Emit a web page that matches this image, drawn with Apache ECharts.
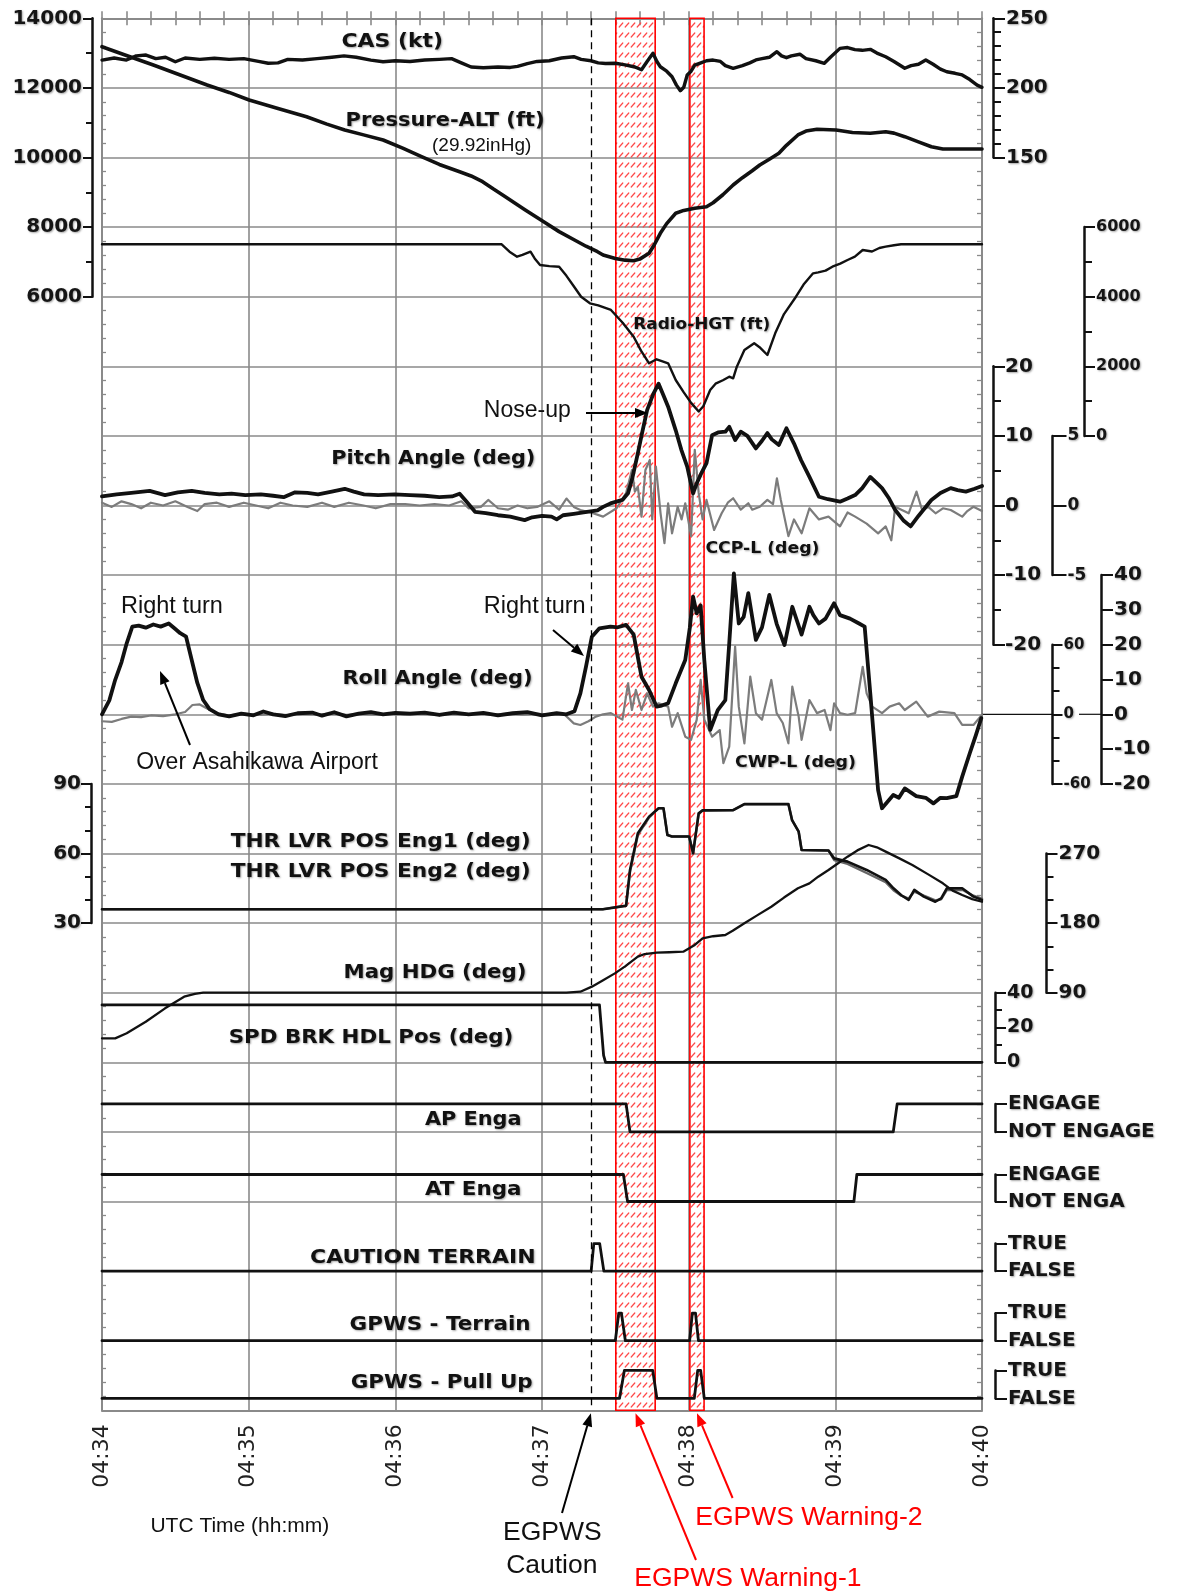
<!DOCTYPE html>
<html><head><meta charset="utf-8">
<script src="https://cdn.jsdelivr.net/npm/echarts@6/dist/echarts.min.js"></script>
<style>html,body{margin:0;padding:0;background:#fff}#c{width:1177px;height:1594px}</style>
</head><body><div id="c"></div>
<script>
// ---------------- DATA (time in seconds after 04:34:00) ----------------
const timeTicks = ['04:34','04:35','04:36','04:37','04:38','04:39','04:40'];
const egpwsCautionT = 200;
const warning1 = [210.2, 226.3];
const warning2 = [240.5, 246.3];

const CAS = [[0,220],[5,221.5],[10,220],[14,223],[18,223.6],[22,221],[26,222],[30,218.8],[34,221.5],[40,220.5],[46,221.3],[52,220.5],[58,221],[64,219],[68,217.7],[72,218],[76,220.5],[82,220],[88,221],[94,222],[99,223],[104,222],[110,220],[115,218.8],[120,219.5],[126,219],[132,220],[138,220.5],[143,221],[147,218],[151,215],[156,214.5],[162,215],[167,214.7],[170,215.5],[174,217.5],[178,219],[183,219.5],[188,221.5],[193,222.4],[196,220.5],[200,219.5],[203,218],[206,217.5],[210,217.7],[214,216.5],[218,215],[220.7,213],[223,219],[225.4,224.9],[227,219],[228.4,215.2],[231,212],[233.2,208],[235,202],[236.6,198],[238,200.5],[239.4,209.3],[241,212],[242.5,216.4],[245,218],[247.3,219.5],[250,220],[253,219],[255,216],[258.2,214.1],[262,216],[265,218],[267.5,220.1],[270,221],[273,222],[276.1,226],[278,223],[280,221.7],[282,223],[285.5,224.2],[288,221],[292,219.5],[295.5,217.7],[298,222],[301.9,228.4],[305,229],[308,227.5],[311,227],[314.3,227.7],[317,225],[320.6,222.4],[324,219],[328.4,214.1],[331,216],[334,217],[337,220.1],[340,217],[343,213.5],[345.6,211.6],[349,210.5],[351.9,209.3],[355,206],[358,202],[360,200.4]];

const PRESS_ALT = [[0,13184],[10,12930],[21,12658],[32,12370],[43,12083],[52,11870],[60.2,11652],[72,11410],[83.7,11172],[92,10960],[99.3,10790],[107,10650],[115,10503],[123,10270],[130.7,10023],[138,9800],[146.3,9592],[151,9470],[155.7,9305],[160,9100],[165,8874],[173,8500],[180.7,8155],[187,7870],[193.3,7629],[198,7450],[202.7,7293],[205,7198],[210,7100],[214,7050],[217.5,7034],[220,7080],[223.8,7247],[226,7500],[228.4,7822],[231,8100],[234.7,8397],[238,8480],[242.5,8540],[247.3,8586],[250,8700],[254,8930],[258.2,9210],[262,9420],[266,9620],[269.1,9785],[273,9950],[276.9,10121],[280,10350],[284.7,10647],[288,10760],[292.5,10810],[300.3,10790],[307,10720],[314.3,10695],[320.6,10742],[324,10700],[328.4,10598],[334,10450],[339.3,10310],[344,10244],[352,10244],[360,10244]];

const RADIO_HGT = [[0,5506],[163.5,5506],[166.7,5293],[169.8,5150],[172,5200],[175.3,5293],[177,5100],[179.2,4911],[183,4880],[187,4862],[190,4600],[193,4300],[196,4000],[199.6,3810],[203,3750],[208.2,3618],[213,3250],[217.5,2851],[220.5,2450],[223.8,2086],[226.9,2201],[229,2150],[231.6,2086],[234.7,1606],[238,1250],[241,950],[244.1,700],[246,850],[248.8,1319],[251,1500],[254,1600],[256.6,1701],[258.2,1655],[259.7,1989],[262.8,2468],[266.8,2661],[269,2550],[272.2,2325],[275.4,2948],[279,3500],[283.9,4000],[287,4350],[290.9,4672],[293,4700],[296,4750],[298.8,4862],[302,4950],[305,5055],[308,5150],[311.2,5342],[315,5300],[318,5400],[320.6,5437],[324,5480],[326.9,5506],[360,5506]];

const PITCH = [[0,1.3],[6,1.6],[12,1.8],[19.5,2.1],[25.8,1.5],[31,1.9],[36.7,2.1],[42,1.8],[48,1.6],[53,1.7],[58.6,1.5],[65,1.6],[70,1.4],[74.3,1.2],[79,1.9],[84,1.8],[88.4,1.6],[94,2.0],[99.3,2.4],[103,2.0],[107.2,1.6],[113,1.5],[119.7,1.6],[126,1.5],[132,1.4],[138,1.2],[143.2,1.3],[146.3,1.7],[149,0.6],[152.6,-0.9],[157,-1.1],[162,-1.4],[167,-1.6],[172.9,-2.1],[176,-1.7],[180,-1.5],[183.9,-1.6],[186,-2.0],[188.6,-1.4],[193,-1.2],[197,-1.0],[202.7,-0.7],[205,-0.2],[208,0.3],[212.9,0.8],[215.2,1.75],[217,4],[219.2,7.5],[221,10.5],[223,13.7],[225.5,16],[227.7,17.5],[229.5,16],[231.6,14.2],[234.7,10.8],[237,8],[239.4,5.6],[241.8,1.75],[243.3,3.2],[245,4.5],[247.3,6.1],[249.6,10.1],[252,10.5],[255,10.6],[256.6,11.3],[259,9.4],[261.3,10.6],[264,10],[267.5,8.2],[270,9.3],[272.2,10.4],[274,9.5],[276.9,8.7],[280,11.1],[283.1,8.9],[286,6.5],[289.4,4.1],[293.3,1.26],[297,0.9],[301.9,0.55],[305,1.0],[308.1,1.5],[311,2.5],[314.3,4.1],[317,3.2],[319.1,2.5],[322,1.0],[324.5,-0.65],[328,-2.2],[330.8,-3.0],[334,-1.5],[339.3,0.8],[343,1.8],[347.2,2.5],[350,2.2],[353.4,2.0],[357,2.4],[360,2.8]];

const CCP_L = [[0,0.2],[4,-0.1],[8,0.3],[12,0.1],[16,-0.2],[20,0.2],[25,0.0],[30,0.3],[35,-0.1],[39,-0.4],[42,0.1],[47,0.2],[52,-0.1],[58,0.2],[63,0.0],[68,-0.2],[73,0.2],[78,0.0],[84,-0.1],[90,0.2],[95,-0.1],[101,0.2],[107,0.0],[112,-0.2],[118,0.1],[124,0.1],[130,0.0],[136,0.1],[142,0.0],[147,0.3],[150,-0.2],[155,-0.1],[158,0.4],[162,-0.2],[166,-0.3],[170,0.0],[174,-0.2],[178,-0.1],[183,0.3],[187,-0.3],[190,0.5],[193,-0.1],[195.7,-0.32],[200,-0.5],[205,-0.8],[210.5,-0.2],[214.4,0.9],[216.8,2.55],[218,1.0],[219.2,1.35],[220.7,-0.8],[222.3,2.55],[224.1,3.27],[225.1,-1.0],[226.6,2.8],[228.5,-0.56],[230.1,-2.7],[231.6,0.16],[233.2,-2.0],[235.5,-0.09],[237.1,-1.0],[238.6,0.16],[241,-2.2],[242.5,4.0],[244.1,0.9],[245.7,-1.0],[247.3,0.4],[250.4,-1.76],[253.5,-0.56],[256,0.2],[258.2,0.52],[261.3,-0.3],[264.4,0.16],[266,-0.3],[269.1,-0.09],[272.2,0.4],[274.5,0.1],[276.1,1.95],[277.7,0.4],[280.8,-2.2],[283.1,-1.0],[286.2,-2.0],[289.4,-0.2],[293.3,-1.0],[297.2,-0.8],[301.9,-1.5],[305,-0.5],[308.1,-0.8],[312.8,-1.3],[317.5,-2.0],[320.6,-1.5],[322.9,-2.5],[324.5,-0.09],[327,-0.3],[330,-0.56],[333.2,1.0],[335.5,-0.32],[338,-0.1],[341,-0.56],[344,-0.2],[347.2,-0.32],[351.9,-0.8],[354,-0.4],[356.5,-0.09],[360,-0.4]];

const ROLL = [[0,0],[3,4],[5.4,9.9],[8,15],[10.1,20.4],[12.4,25.2],[15,25.5],[17.9,24.9],[21,25.8],[24,25.2],[27.3,26.1],[30,24.5],[32,23.3],[34.4,22.3],[36.7,15.6],[39,9],[41.4,4.1],[44,1.5],[47.7,0],[52,-0.6],[57,0.2],[62,-0.3],[66,0.8],[70,0.0],[75,-0.5],[80,0.3],[86,0.5],[90,-0.4],[95,0.6],[100,-0.6],[105,0.2],[110,0.6],[115,0.0],[120,0.4],[126,0.2],[132,0.5],[138,-0.2],[144,0.5],[150,0.0],[156,0.4],[162,-0.3],[168,0.3],[174,0.6],[180,-0.3],[186,0.3],[190,0.0],[193.3,0.9],[195.7,6.0],[198,13.7],[200.4,22.3],[203.5,24.7],[208,25.2],[211,25.0],[214.4,25.7],[217.5,22.9],[220.7,10.8],[223.8,7.0],[226.9,2.2],[229,2.5],[231.6,3.2],[234.7,8.9],[238.6,15.6],[240.5,25],[241.8,33.8],[243.3,29.0],[244.9,31.3],[246.4,15.6],[248.8,-4.5],[251.9,1.2],[255,4.1],[256.6,20.4],[258.5,40.5],[260.5,26.1],[262.5,28],[264.4,34.8],[267.5,21.4],[270,25],[273,34.3],[276,26],[279.2,19.9],[282.4,30.9],[286.2,22.9],[289.4,30.9],[291,28.5],[293.3,26.1],[296,27.5],[299.5,31.9],[301.9,28.5],[306,27.5],[309.7,26.1],[312,25.2],[314.3,6.0],[317.5,-21.8],[319.1,-27],[323.7,-23.2],[326,-24],[328.4,-21.3],[333.1,-23.5],[337,-24],[340.1,-25.6],[343,-24],[345.6,-24.1],[349.5,-23.5],[351.9,-17.9],[355,-11.2],[357.5,-6],[359.7,-1.1]];

const CWP_L = [[0,-6],[4,-6.5],[8,-4],[12,-2],[16,-2.5],[20,-1],[25,-1.5],[30,0],[34,2],[37,8],[40,8.5],[43,5],[47,1],[52,-1],[58,0.5],[64,-0.5],[70,0.3],[76,-0.6],[82,0.4],[88,-0.3],[94,0.5],[100,-0.5],[106,0.3],[112,-0.2],[118,0.4],[124,-0.3],[130,0.5],[136,-0.2],[142,0.3],[148,-0.4],[154,0.4],[160,-0.3],[166,0.5],[172,-0.2],[178,0.4],[184,-0.3],[189,0.2],[193,-7.8],[195.7,-9.2],[199,-6],[202,-2],[205,0],[208.2,1],[212.9,-4.6],[215.2,26.7],[216.8,3.7],[218.4,21],[220.7,3.7],[223,18.1],[225.4,6.6],[227.7,9.5],[231.6,6.6],[233.2,-10.7],[235.5,1],[238.6,-19.3],[241,-22],[243.3,-4.6],[244.9,29.6],[246.4,-4.6],[249.6,-19.3],[252.7,-13.6],[254.2,-42.2],[256.6,-27.9],[259,58.3],[260.5,6.6],[262.8,-25],[265.2,32.4],[267.5,1],[270,-4.6],[273.8,29.6],[276,1],[278.5,-7.5],[280.8,-25],[282.4,23.8],[285,-2],[286.2,-22],[289.4,12.3],[292.5,1],[295.6,3.7],[298,-13.6],[299.5,9.5],[301.9,1],[305,-0.4],[308.1,1],[311.2,41],[312.8,18],[315.1,6.6],[319.1,1],[322.2,6.6],[326.1,9.5],[328.4,3.7],[333.1,10.9],[337.8,-2],[342.5,2.3],[348.7,1],[351.9,-9.2],[356.5,-9.2],[360,-0.4]];

const THR_ENG1 = [[0,36],[205,36],[211.3,37],[214.4,37.5],[216,52.9],[219.2,68.7],[223.8,75.9],[227.7,79.5],[229.7,79.5],[231.3,68],[233.2,67.3],[240.2,67.3],[241.8,60.1],[244.1,77.3],[245.7,78.6],[258.2,78.7],[262.8,81.3],[280.8,81.3],[282.3,74.4],[285,69.4],[286.2,61.5],[297.2,61.3],[299.5,57.9],[305,56.5],[312.8,52.9],[320.6,48.6],[323.8,45],[327,42],[330,40],[332.3,44.3],[336.2,41.4],[340.9,39.2],[343.3,40.7],[345.6,45],[351.9,45],[356.5,41.4],[360,40]];
const THR_ENG2 = [[0,36],[205,36],[211.3,37],[214.4,37.5],[216,52],[219.2,68],[223.8,75.5],[227.7,79.5],[229.7,79.5],[231.3,68],[233.2,67.3],[240.2,67.3],[241.8,60.1],[244.1,77.3],[245.7,78.6],[258.2,78.7],[262.8,81.3],[280.8,81.3],[282.3,74.4],[285,69.4],[286.2,61.5],[297.2,61.3],[299.5,57.2],[305,55.5],[312.8,51.6],[320.6,47.6],[323.8,44.2],[327,41.8],[330,40.6],[332.3,43.6],[336.2,41.8],[340.9,39.8],[343.3,40.3],[345.6,44.2],[351.9,44.4],[356.5,41.8],[360,40.5]];

const MAG_HDG = [[0,31],[5.4,31],[10.1,37.5],[17.9,52.5],[25.8,69.8],[33.6,84.8],[38,88.5],[41.4,90],[190,90],[195.7,91.3],[200.4,97.8],[205,106],[209.8,115],[214,124],[219.2,136.6],[222,140],[226.9,141.7],[232,142.3],[237.8,143],[242.5,151.7],[245.7,160.3],[250,163],[255,164.6],[258,170],[262.8,179.7],[268,190],[273.8,201.2],[279,213],[284.7,225],[289.4,231.4],[293,240],[297.2,248.7],[301,257],[305,265.9],[309,274],[313.6,281],[317,278],[320.6,272.4],[326,264],[331.5,255.1],[338,243],[344,231.4],[348,222],[351.9,216.3],[356,211],[360,207.6]];

const SPD_BRK = [[0,33],[203.5,33],[205.2,4],[206,0],[360,0]];
const AP_ENGA = [[0,1],[214.4,1],[216,0],[323.7,0],[325.3,1],[360,1]];
const AT_ENGA = [[0,1],[213.3,1],[215,0],[307.6,0],[308.8,1],[360,1]];
const CAUTION_TERRAIN = [[0,0],[200.1,0],[201.2,1],[203.6,1],[205.3,0],[360,0]];
const GPWS_TERRAIN = [[0,0],[210,0],[211.4,1],[212.5,1],[214.1,0],[240.4,0],[241.5,1],[242.8,1],[244,0],[360,0]];
const GPWS_PULLUP = [[0,0],[211.7,0],[213.7,1],[225.3,1],[227,0],[242.3,0],[243.7,1],[244.9,1],[246.4,0],[360,0]];

const apLabels = ['NOT ENGAGE','ENGAGE'];
const atLabels = ['NOT ENGA','ENGAGE'];
const tfLabels = ['FALSE','TRUE'];

// ---------------- LAYOUT / STYLE ----------------
const TOP = 18.3, ROW = 69.6, LEFT = 102, RIGHT = 195;
const BLACK = '#111', GRAY = '#8a8a8a', LGRAY = '#7c7c7c';
const rows = (r0, r1) => ({left: LEFT, right: RIGHT, top: TOP + ROW * r0, height: ROW * (r1 - r0)});
const disc = (bottomY, h) => ({left: LEFT, right: RIGHT, top: bottomY - h, height: h});

const grids = [
  rows(0, 20),              // 0 main frame
  rows(0, 4),               // 1 pressure alt
  rows(0, 2),               // 2 CAS
  rows(3, 6),               // 3 radio
  rows(5, 9),               // 4 pitch
  rows(6, 8),               // 5 CCP-L
  rows(8, 11),              // 6 roll
  rows(9, 11),              // 7 CWP-L
  rows(11, 13),             // 8 THR LVR
  rows(12, 14),             // 9 MAG HDG
  rows(14, 15),             // 10 SPD BRK
  disc(TOP + ROW * 16, 28), // 11 AP
  disc(TOP + ROW * 17, 27), // 12 AT
  disc(TOP + ROW * 18, 27.5), // 13 caution
  disc(TOP + ROW * 19, 27.5), // 14 gpws terrain
  disc(1398.4, 28)          // 15 pull up
];

const lbl = (size) => ({fontFamily: 'DejaVu Sans', fontWeight: 'bold', fontSize: size, color: '#151515',
  textShadowColor: 'rgba(0,0,0,0.35)', textShadowBlur: 2, textShadowOffsetX: 1, textShadowOffsetY: 1});
const plain = v => String(v);

function dAxis(gi, pos, offset, min, max, interval, minorSplit, size, fmt, tickLen, margin, minorLen) {
  return {
    type: 'value', gridIndex: gi, position: pos, offset, min, max, interval,
    axisLine: {show: true, onZero: false, lineStyle: {color: BLACK, width: 2.5}},
    axisTick: {show: true, length: tickLen, lineStyle: {color: BLACK, width: 2}},
    minorTick: {show: minorSplit > 0, splitNumber: minorSplit || 2, length: minorLen || 7, lineStyle: {color: BLACK, width: 2}},
    splitLine: {show: false},
    axisLabel: Object.assign({show: true, margin, formatter: fmt || plain}, lbl(size))
  };
}

// x axes
const xAxes = [
  {type: 'value', gridIndex: 0, position: 'bottom', min: 0, max: 360, interval: 60,
   axisLine: {show: true, onZero: false, lineStyle: {color: GRAY, width: 2}},
   axisTick: {show: false},
   splitLine: {show: true, lineStyle: {color: GRAY, width: 1.6}},
   axisLabel: {rotate: 90, margin: 14, fontFamily: 'DejaVu Sans', fontSize: 22, color: '#222',
     formatter: v => timeTicks[Math.round(v / 60)]}},
  {type: 'value', gridIndex: 0, position: 'bottom', min: 0, max: 360, interval: 10,
   axisLine: {show: false}, axisLabel: {show: false}, splitLine: {show: false},
   axisTick: {show: true, inside: true, length: 7, lineStyle: {color: GRAY, width: 1.6}}},
  {type: 'value', gridIndex: 0, position: 'top', min: 0, max: 360, interval: 10,
   axisLine: {show: true, onZero: false, lineStyle: {color: GRAY, width: 2}}, axisLabel: {show: false}, splitLine: {show: false},
   axisTick: {show: true, inside: true, length: 7, lineStyle: {color: GRAY, width: 1.6}}}
];
for (let i = 1; i < grids.length; i++) {
  xAxes.push({type: 'value', gridIndex: i, min: 0, max: 360, show: false, axisLine: {onZero: false}});
}

const yAxes = [
  {type: 'value', gridIndex: 0, position: 'left', min: 0, max: 20, interval: 1, inverse: true,
   axisLine: {show: true, onZero: false, lineStyle: {color: GRAY, width: 2}},
   axisTick: {show: false, inside: true}, axisLabel: {show: false},
   minorTick: {show: true, splitNumber: 5, length: 4, lineStyle: {color: GRAY, width: 1.3}},
   splitLine: {show: true, lineStyle: {color: GRAY, width: 1.6}}},
  // 1..15 data axes: grid, position, offset, min, max, interval, minorSplit, fontSize, formatter, tickLen, labelMargin
  dAxis(1, 'left', 10, 6000, 14000, 2000, 2, 20, null, 9, 10, 6),
  dAxis(2, 'right', 11, 150, 250, 50, 5, 20, null, 12, 13, 8),
  dAxis(3, 'right', 102, 0, 6000, 2000, 2, 16, null, 11, 12, 8),
  dAxis(4, 'right', 11, -20, 20, 10, 2, 20, null, 12, 12, 8),
  dAxis(5, 'right', 70.5, -5, 5, 5, 0, 17, null, 14, 15),
  dAxis(6, 'right', 119, -20, 40, 10, 0, 20, null, 12, 13),
  dAxis(7, 'right', 70.5, -60, 60, 60, 3, 15, null, 10, 11, 7),
  dAxis(8, 'left', 11, 30, 90, 30, 3, 20, null, 10, 10, 6),
  dAxis(9, 'right', 64.5, 90, 270, 90, 3, 20, null, 11, 12, 7),
  dAxis(10, 'right', 13, 0, 40, 20, 2, 19, null, 11, 12, 7),
  dAxis(11, 'right', 13, 0, 1, 1, 0, 20, v => apLabels[v], 12, 13),
  dAxis(12, 'right', 13, 0, 1, 1, 0, 20, v => atLabels[v], 12, 13),
  dAxis(13, 'right', 13, 0, 1, 1, 0, 20, v => tfLabels[v], 12, 13),
  dAxis(14, 'right', 13, 0, 1, 1, 0, 20, v => tfLabels[v], 12, 13),
  dAxis(15, 'right', 13, 0, 1, 1, 0, 20, v => tfLabels[v], 12, 13),
  // right frame edge ticks
  {type: 'value', gridIndex: 0, position: 'right', min: 0, max: 20, interval: 1, inverse: true,
   axisLine: {show: true, onZero: false, lineStyle: {color: GRAY, width: 2}},
   axisTick: {show: false, inside: true}, axisLabel: {show: false}, splitLine: {show: false},
   minorTick: {show: true, splitNumber: 5, length: 5, lineStyle: {color: GRAY, width: 1.3}}}
];

// hatch pattern for EGPWS warning bands
const pc = document.createElement('canvas'); pc.width = 6; pc.height = 10;
const pg = pc.getContext('2d'); pg.strokeStyle = '#ff4a4a'; pg.lineWidth = 1.2; pg.lineCap = 'round';
pg.beginPath(); pg.moveTo(1.2, 7); pg.lineTo(4.8, 3); pg.stroke();
const hatch = {image: pc, repeat: 'repeat'};

function line(name, gi, data, color, width, z) {
  return {name, type: 'line', xAxisIndex: 2 + gi, yAxisIndex: gi, data, showSymbol: false, symbol: 'none',
    clip: false, silent: true, z: z || 3, lineStyle: {color, width, join: 'round', cap: 'round'}};
}

const series = [
  {type: 'line', xAxisIndex: 0, yAxisIndex: 0, data: [[0, 0]], symbol: 'none', lineStyle: {opacity: 0}, z: 1, silent: true,
   markArea: {silent: true, itemStyle: {color: hatch, borderColor: '#ff0000', borderWidth: 1.6},
     data: [[{xAxis: warning1[0]}, {xAxis: warning1[1]}], [{xAxis: warning2[0]}, {xAxis: warning2[1]}]]},
   markLine: {silent: true, symbol: ['none', 'none'], label: {show: false},
     lineStyle: {color: '#000', type: [7, 5], width: 1.3}, data: [{xAxis: egpwsCautionT}]}},
  line('CAS (kt)', 2, CAS, BLACK, 3.4),
  line('Pressure-ALT (ft)', 1, PRESS_ALT, BLACK, 3.6),
  line('Radio-HGT (ft)', 3, RADIO_HGT, BLACK, 2.4),
  line('CCP-L (deg)', 5, CCP_L, LGRAY, 2.2, 2),
  line('Pitch Angle (deg)', 4, PITCH, BLACK, 3.8),
  line('CWP-L (deg)', 7, CWP_L, LGRAY, 2.2, 2),
  line('Roll Angle (deg)', 6, ROLL, BLACK, 3.8),
  line('THR LVR POS Eng2 (deg)', 8, THR_ENG2, '#666', 2.4, 2),
  line('THR LVR POS Eng1 (deg)', 8, THR_ENG1, BLACK, 2.6),
  line('Mag HDG (deg)', 9, MAG_HDG, BLACK, 2.3),
  line('SPD BRK HDL Pos (deg)', 10, SPD_BRK, BLACK, 2.8),
  line('AP Enga', 11, AP_ENGA, BLACK, 2.8),
  line('AT Enga', 12, AT_ENGA, BLACK, 2.8),
  line('CAUTION TERRAIN', 13, CAUTION_TERRAIN, BLACK, 2.8),
  line('GPWS - Terrain', 14, GPWS_TERRAIN, BLACK, 2.8),
  line('GPWS - Pull Up', 15, GPWS_PULLUP, BLACK, 2.8)
];

const chart = echarts.init(document.getElementById('c'), null, {renderer: 'canvas'});
chart.setOption({animation: false, backgroundColor: '#fff', grid: grids, xAxis: xAxes, yAxis: yAxes, series});

// ---------------- ANNOTATIONS ----------------
const mc = document.createElement('canvas').getContext('2d');
function fitScale(text, font, w) { mc.font = font; const m = mc.measureText(text).width; return w ? w / m : 1; }
const gfx = [];
function txt(text, x, y, size, opt) {
  opt = opt || {};
  const family = opt.arial ? '"Liberation Sans", Arial, sans-serif' : '"DejaVu Sans", Verdana, sans-serif';
  const font = (opt.arial ? '' : 'bold ') + size + 'px ' + family;
  const sx = opt.w ? fitScale(text, font, opt.w) : 1;
  const st = {text, font, fill: opt.color || '#111', align: opt.align || 'left', verticalAlign: 'middle',
    textAlign: opt.align || 'left', textVerticalAlign: 'middle'};
  if (!opt.arial) { st.textShadowColor = 'rgba(0,0,0,0.35)'; st.textShadowBlur = 2; st.textShadowOffsetX = 1; st.textShadowOffsetY = 1; }
  gfx.push({type: 'text', x, y, scaleX: sx, silent: true, z: 100, style: st});
}
function arrow(x1, y1, x2, y2, color, w) {
  const dx = x2 - x1, dy = y2 - y1, L = Math.hypot(dx, dy), ux = dx / L, uy = dy / L, hl = 13, hw = 5;
  const bx = x2 - ux * hl, by = y2 - uy * hl;
  gfx.push({type: 'line', silent: true, z: 100, shape: {x1, y1, x2: bx, y2: by}, style: {stroke: color, lineWidth: w}});
  gfx.push({type: 'polygon', silent: true, z: 100, shape: {points: [[x2, y2], [bx - uy * hw, by + ux * hw], [bx + uy * hw, by - ux * hw]]}, style: {fill: color}});
}

// series labels (bold)
txt('CAS (kt)', 341.5, 41.7, 19, {w: 101.6});
txt('Pressure-ALT (ft)', 345.6, 121, 19, {w: 199});
txt('Pitch Angle (deg)', 331.3, 459.4, 19, {w: 204});
txt('Roll Angle (deg)', 342.5, 679, 19, {w: 190});
txt('THR LVR POS Eng1 (deg)', 230.7, 841.6, 19, {w: 300});
txt('THR LVR POS Eng2 (deg)', 230.7, 872.1, 19, {w: 300});
txt('Mag HDG (deg)', 343.5, 972.7, 19, {w: 183});
txt('SPD BRK HDL Pos (deg)', 228.7, 1037.7, 19, {w: 284.6});
txt('AP Enga', 424.9, 1120.1, 19, {w: 96.6});
txt('AT Enga', 424.9, 1190.2, 19, {w: 96.6});
txt('CAUTION TERRAIN', 310, 1258.3, 19, {w: 225.6});
txt('GPWS - Terrain', 349.6, 1325.4, 19, {w: 181});
txt('GPWS - Pull Up', 350.7, 1383.3, 19, {w: 182});
txt('Radio-HGT (ft)', 633.2, 325.2, 15, {w: 137});
txt('CCP-L (deg)', 705.4, 548.9, 15, {w: 114});
txt('CWP-L (deg)', 734.9, 763.3, 15, {w: 121});
// plain annotations
txt('(29.92inHg)', 432, 145.3, 19, {arial: true});
txt('Nose-up', 483.8, 410.6, 23, {arial: true});
txt('Right turn', 121, 606.8, 23.5, {arial: true});
txt('Right turn', 483.8, 606.8, 23.5, {arial: true});
txt('Over Asahikawa Airport', 136.2, 762.3, 23, {arial: true});
txt('UTC Time (hh:mm)', 150.4, 1526.6, 21, {arial: true});
txt('EGPWS', 552.4, 1532.7, 26.5, {arial: true, align: 'center'});
txt('Caution', 551.8, 1565.3, 26.5, {arial: true, align: 'center'});
txt('EGPWS Warning-2', 695.2, 1517.5, 26.5, {arial: true, color: '#ff0000'});
txt('EGPWS Warning-1', 634.2, 1578.5, 26.5, {arial: true, color: '#ff0000'});

// arrows
arrow(586, 413, 648, 413, '#000', 2);
arrow(553, 630, 584, 656, '#000', 2);
arrow(190, 745, 160, 671, '#000', 2);
const xPix = t => chart.convertToPixel({xAxisIndex: 0}, t);
const bottomY = TOP + ROW * 20;
arrow(562, 1513, xPix(egpwsCautionT), bottomY + 3, '#000', 2);
arrow(696, 1560, xPix((warning1[0] + warning1[1]) / 2), bottomY + 3, '#ff0000', 2);
arrow(732.6, 1498, xPix((warning2[0] + warning2[1]) / 2), bottomY + 3, '#ff0000', 2);

// zero reference line linking roll / CWP-L axes
const y0 = chart.convertToPixel({yAxisIndex: 7}, 0);
gfx.push({type: 'line', silent: true, z: 1, shape: {x1: LEFT + 880, y1: y0, x2: LEFT + 880 + 70.5, y2: y0}, style: {stroke: '#111', lineWidth: 1.2}});
gfx.push({type: 'line', silent: true, z: 1, shape: {x1: LEFT + 880 + 97, y1: y0, x2: LEFT + 880 + 119, y2: y0}, style: {stroke: '#111', lineWidth: 1.2}});

chart.setOption({graphic: gfx});
</script></body></html>
